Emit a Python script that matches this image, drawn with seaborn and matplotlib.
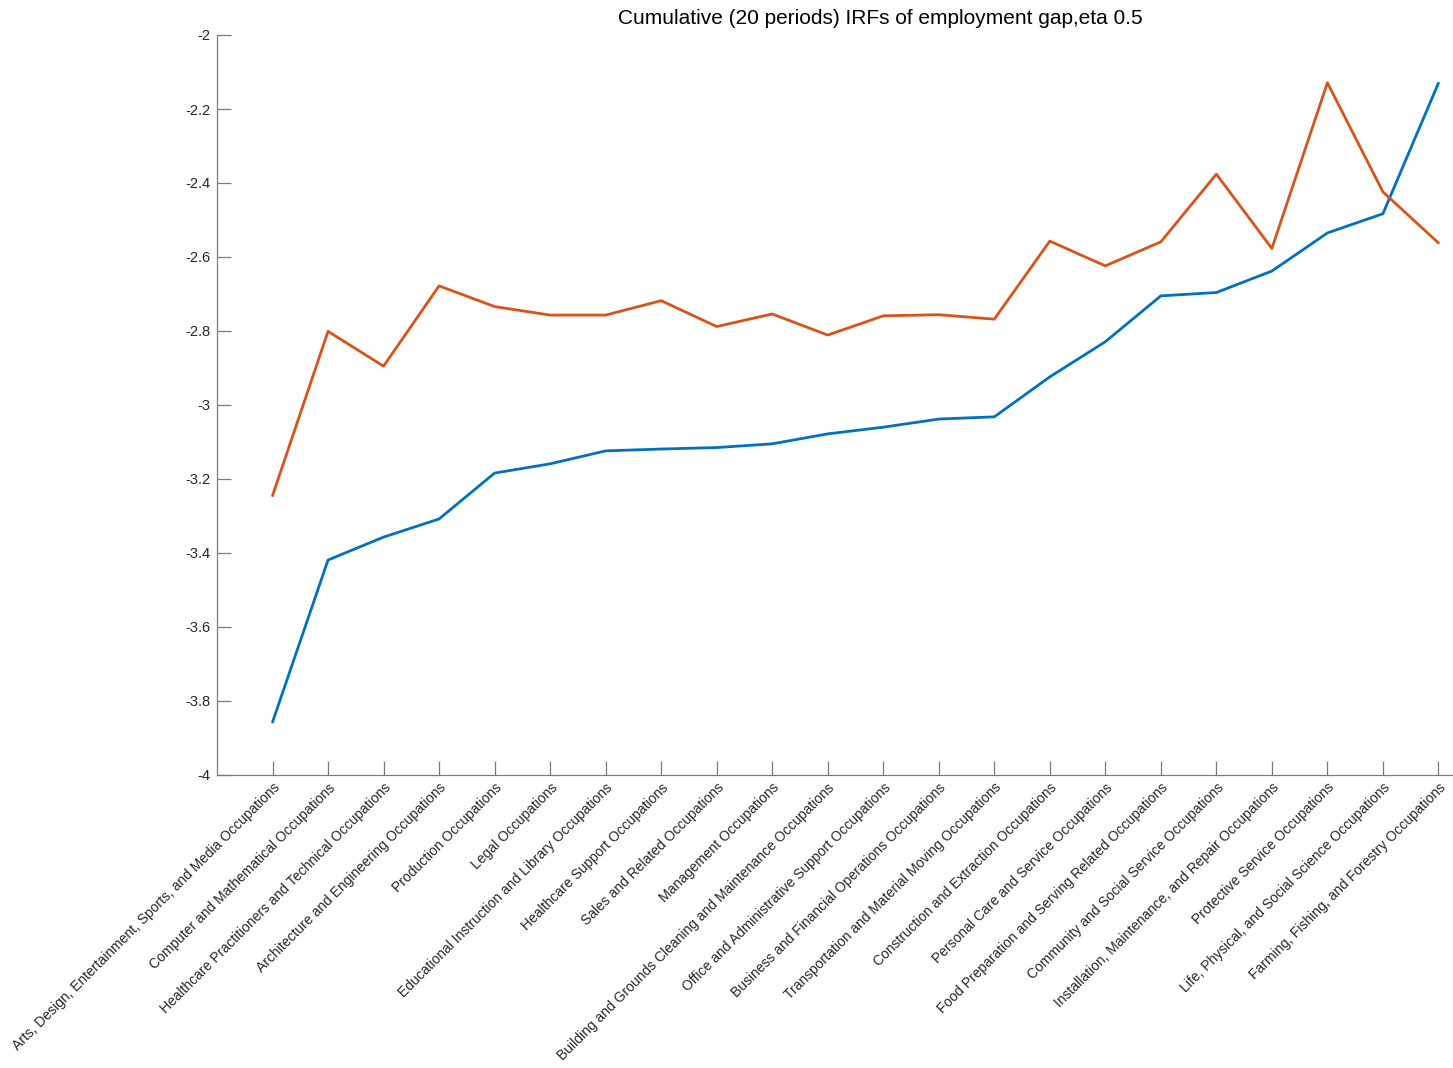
import pandas as pd
import matplotlib.pyplot as plt
import seaborn as sns

# --- Datos ---
occupations = [
    "Arts, Design, Entertainment, Sports, and Media Occupations",
    "Computer and Mathematical Occupations",
    "Healthcare Practitioners and Technical Occupations",
    "Architecture and Engineering Occupations",
    "Production Occupations",
    "Legal Occupations",
    "Educational Instruction and Library Occupations",
    "Healthcare Support Occupations",
    "Sales and Related Occupations",
    "Management Occupations",
    "Building and Grounds Cleaning and Maintenance Occupations",
    "Office and Administrative Support Occupations",
    "Business and Financial Operations Occupations",
    "Transportation and Material Moving Occupations",
    "Construction and Extraction Occupations",
    "Personal Care and Service Occupations",
    "Food Preparation and Serving Related Occupations",
    "Community and Social Service Occupations",
    "Installation, Maintenance, and Repair Occupations",
    "Protective Service Occupations",
    "Life, Physical, and Social Science Occupations",
    "Farming, Fishing, and Forestry Occupations",
]

irf_blue = [-3.857, -3.419, -3.357, -3.308, -3.184, -3.159, -3.124, -3.119,
            -3.115, -3.105, -3.078, -3.060, -3.038, -3.032, -2.924, -2.829,
            -2.705, -2.696, -2.638, -2.535, -2.483, -2.130]

irf_orange = [-3.245, -2.801, -2.895, -2.678, -2.734, -2.757, -2.757, -2.718,
              -2.788, -2.754, -2.811, -2.759, -2.756, -2.768, -2.557, -2.624,
              -2.559, -2.376, -2.577, -2.129, -2.424, -2.562]

title_text = "Cumulative (20 periods) IRFs of employment gap,eta 0.5"
y_ticks = [-4, -3.8, -3.6, -3.4, -3.2, -3, -2.8, -2.6, -2.4, -2.2, -2]
y_tick_labels = ["-4", "-3.8", "-3.6", "-3.4", "-3.2", "-3", "-2.8", "-2.6",
                 "-2.4", "-2.2", "-2"]

df = pd.DataFrame({
    "occupation": occupations * 2,
    "irf": irf_blue + irf_orange,
    "serie": ["s1"] * len(occupations) + ["s2"] * len(occupations),
})

# --- Estilo tipo MATLAB ---
sns.set_style("white")
plt.rcParams["font.family"] = ["Liberation Sans", "DejaVu Sans"]

fig = plt.figure(figsize=(14.53, 10.68), dpi=100)
# el eje de MATLAB sigue más allá del borde derecho (la figura está recortada)
ax = fig.add_axes([217 / 1453, 1 - 775 / 1068, (1543 - 217) / 1453, 740 / 1068])

sns.lineplot(data=df, x="occupation", y="irf", hue="serie", sort=False,
             palette=["#0072BD", "#D95319"], linewidth=2.0, legend=False, ax=ax)

ax.set_xlim(-1, -1 + (1543 - 217) / 55.52)
ax.set_ylim(-4, -2)
ax.set_yticks(y_ticks)
ax.set_yticklabels(y_tick_labels)
ax.set_xlabel("")
ax.set_ylabel("")

for s in ["top", "right"]:
    ax.spines[s].set_visible(False)
for s in ["left", "bottom"]:
    ax.spines[s].set_color("#7a7a7a")
    ax.spines[s].set_linewidth(0.9)

ax.tick_params(axis="both", which="major", bottom=True, left=True,
               direction="in", length=10, width=0.9,
               color="#7a7a7a", labelcolor="#262626", labelsize=10.5)
ax.tick_params(axis="x", pad=4)
ax.tick_params(axis="y", pad=5)
plt.setp(ax.get_xticklabels(), rotation=45, ha="right", va="top",
         rotation_mode="anchor", fontsize=10)

ax.set_title(title_text, fontsize=15, color="black", pad=8)

plt.savefig("out.png", dpi=100)
